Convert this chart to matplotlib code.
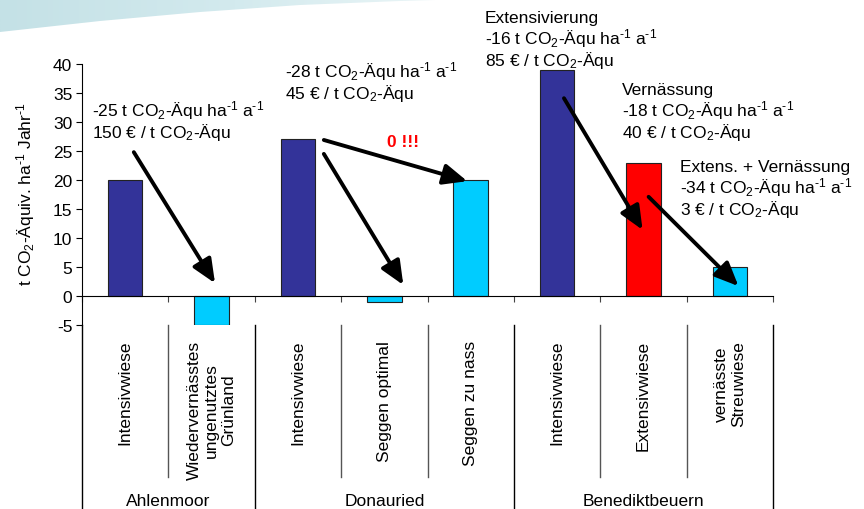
import numpy as np
import matplotlib
matplotlib.use("Agg")
import matplotlib.pyplot as plt
from matplotlib.path import Path
from matplotlib.patches import PathPatch
from matplotlib.colors import LinearSegmentedColormap
from matplotlib.transforms import blended_transform_factory

plt.rcParams['font.family'] = ['Liberation Sans', 'DejaVu Sans']
plt.rcParams['mathtext.fontset'] = 'custom'
plt.rcParams['mathtext.rm'] = 'Liberation Sans'
plt.rcParams['mathtext.it'] = 'Liberation Sans'
plt.rcParams['mathtext.bf'] = 'Liberation Sans:bold'
plt.rcParams['axes.unicode_minus'] = False

FS = 12.5

# Data
sites = ['Ahlenmoor', 'Donauried', 'Benediktbeuern']
site_sizes = [2, 3, 3]
categories = ['Intensivwiese', 'Wiedervernässtes\nungenutztes\nGrünland',
              'Intensivwiese', 'Seggen optimal', 'Seggen zu nass',
              'Intensivwiese', 'Extensivwiese', 'vernässte\nStreuwiese']
emissions = [20, -5, 27, -1, 20, 39, 23, 5]
bar_colors = ['#333399', '#00CCFF', '#333399', '#00CCFF', '#00CCFF',
              '#333399', '#FF0000', '#00CCFF']

# transitions between land uses: (start x, start y), (end x, end y)
arrows = [((0.10, 24.8), (1.04, 2.2)),
          ((2.30, 26.9), (3.96, 19.8)),
          ((2.30, 24.5), (3.22, 1.9)),
          ((5.08, 34.1), (5.99, 11.4)),
          ((6.06, 17.1), (7.10, 1.7))]

CO2 = 'CO$_2$'
INV = '$^{\\text{-1}}$'
notes = [((-0.38, 31.2), ['-25 t ' + CO2 + '-Äqu ha' + INV + ' a' + INV,
                          '150 € / t ' + CO2 + '-Äqu']),
         ((1.85, 37.9), ['-28 t ' + CO2 + '-Äqu ha' + INV + ' a' + INV,
                         '45 € / t ' + CO2 + '-Äqu']),
         ((4.16, 47.2), ['Extensivierung',
                         '-16 t ' + CO2 + '-Äqu ha' + INV + ' a' + INV,
                         '85 € / t ' + CO2 + '-Äqu']),
         ((5.75, 34.8), ['Vernässung',
                         '-18 t ' + CO2 + '-Äqu ha' + INV + ' a' + INV,
                         '40 € / t ' + CO2 + '-Äqu']),
         ((6.42, 21.6), ['Extens. + Vernässung',
                         '-34 t ' + CO2 + '-Äqu ha' + INV + ' a' + INV,
                         '3 € / t ' + CO2 + '-Äqu'])]

fig = plt.figure(figsize=(8.64, 5.10), dpi=100)

# light swoosh in the top-left corner
bg = fig.add_axes([0, 0, 1, 1], zorder=-5)
bg.set_xlim(0, 864)
bg.set_ylim(510, 0)
bg.axis('off')
grad = np.linspace(0, 1, 256)[None, :]
cmap = LinearSegmentedColormap.from_list('sw', ['#c4e1e6', '#d3eaee', '#eef7f8'])
img = bg.imshow(grad, extent=[0, 470, 40, 0], cmap=cmap, aspect='auto')
verts = [(0, 0), (470, 0), (400, 2), (300, 6), (200, 13), (100, 22), (0, 33), (0, 0)]
codes = [Path.MOVETO] + [Path.LINETO] * 6 + [Path.CLOSEPOLY]
clip = PathPatch(Path(verts, codes), transform=bg.transData, facecolor='none', edgecolor='none')
bg.add_patch(clip)
img.set_clip_path(clip)

ax = fig.add_axes([82 / 864, 1 - 326 / 510, (773 - 82) / 864, (326 - 65) / 510])
x = np.arange(len(categories))
ax.bar(x, emissions, width=0.4, color=bar_colors, edgecolor='#222222', linewidth=0.8, zorder=2)

ax.set_xlim(-0.5, len(categories) - 0.5)
ax.set_ylim(-5, 40)
ax.set_yticks(np.arange(-5, 41, 5))
ax.tick_params(axis='y', labelsize=FS, length=4, width=0.8, direction='out', pad=3)
ax.set_xticks(np.arange(-0.5, len(categories), 1))
ax.set_xticklabels([])
ax.tick_params(axis='x', length=4, width=0.8, direction='out', colors='#444444')
for s in ['top', 'right']:
    ax.spines[s].set_visible(False)
ax.spines['bottom'].set_position(('data', 0))
ax.spines['bottom'].set_zorder(3)
ax.spines['left'].set_linewidth(0.8)
ax.spines['bottom'].set_linewidth(0.8)

fig.text(26 / 864, 1 - 194 / 510, 't ' + CO2 + '-Äquiv. ha' + INV + ' Jahr' + INV,
         rotation=90, ha='center', va='center', fontsize=FS)

# category table below the plot
tr = blended_transform_factory(ax.transData, fig.transFigure)
bounds = np.cumsum([0] + site_sizes) - 0.5
for b in np.arange(-0.5, len(categories), 1):
    major = np.isclose(bounds, b).any()
    ax.plot([b, b], [1 - 326 / 510, 0 if major else 1 - 478 / 510], transform=tr,
            color='black' if major else '#555555', lw=1.0, clip_on=False)
for xi, lab in zip(x, categories):
    ax.text(xi, 1 - 341 / 510, lab, transform=tr, rotation=90, ha='center', va='top',
            multialignment='center', fontsize=FS, linespacing=1.2)
for i, site in enumerate(sites):
    ax.text((bounds[i] + bounds[i + 1]) / 2, 1 - 502 / 510, site, transform=tr,
            ha='center', va='center', fontsize=FS)

# transitions and annotations
for (x0, y0), (x1, y1) in arrows:
    ax.annotate('', xy=(x1, y1), xytext=(x0, y0), annotation_clip=False,
                arrowprops=dict(arrowstyle='-|>,head_length=0.8,head_width=0.35',
                                lw=2.8, color='black', shrinkA=0, shrinkB=0,
                                mutation_scale=18), zorder=4)
for (nx, ny), lines in notes:
    for i, s in enumerate(lines):
        ax.annotate(s, (nx, ny), xytext=(0, -i * 15.5), textcoords='offset points',
                    ha='left', va='baseline', fontsize=FS, annotation_clip=False)
ax.text(3.22, 26.7, '0 !!!', color='#FF0000', fontweight='bold', fontsize=FS,
        ha='center', va='center')

fig.savefig('out.png', dpi=100)
